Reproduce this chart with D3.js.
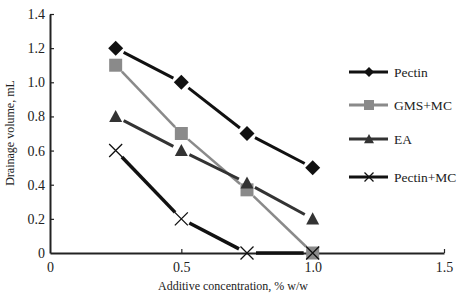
<!DOCTYPE html>
<html>
<head>
<meta charset="utf-8">
<script src="https://cdn.jsdelivr.net/npm/d3@7"></script>
<style>
  body { margin: 0; background: #fff; }
  text { font-family: "Liberation Serif", "Times New Roman", serif; fill: #222; }
</style>
</head>
<body>
<div id="chart"></div>
<script>
const concentrations = [0.25, 0.5, 0.75, 1.0];
const seriesNames = ["Pectin", "GMS+MC", "EA", "Pectin+MC"];
const pectin = [1.2, 1.0, 0.7, 0.5];
const gmsMc = [1.1, 0.7, 0.37, 0];
const ea = [0.8, 0.6, 0.41, 0.2];
const pectinMc = [0.6, 0.2, 0, 0];
const xTicks = [0, 0.5, 1.0, 1.5];
const yTicks = [0, 0.2, 0.4, 0.6, 0.8, 1.0, 1.2, 1.4];

const W = 461, H = 298;
const svg = d3.select("#chart").append("svg")
  .attr("width", W).attr("height", H);

const x = d3.scaleLinear().domain([0, 1.5]).range([50, 444]);
const y = d3.scaleLinear().domain([0, 1.4]).range([253, 14]);

const styles = [
  {values: pectin, color: "#111", width: 3, shape: "diamond"},
  {values: gmsMc, color: "#8a8a8a", width: 2.5, shape: "square"},
  {values: ea, color: "#333", width: 3, shape: "triangle"},
  {values: pectinMc, color: "#111", width: 3.5, shape: "cross"}
];

function marker(shape, s) {
  if (shape === "diamond") return `M0,${-s}L${s},0L0,${s}L${-s},0Z`;
  if (shape === "square") return `M${-s},${-s}H${s}V${s}H${-s}Z`;
  if (shape === "triangle") return `M0,${-s}L${s},${s * 0.85}L${-s},${s * 0.85}Z`;
  return `M${-s},${-s}L${s},${s}M${s},${-s}L${-s},${s}`;
}

// axes
const yAxis = d3.axisLeft(y).tickValues(yTicks)
  .tickFormat(d => d === 0 ? "0" : d3.format(".1f")(d))
  .tickSizeInner(-4).tickSizeOuter(0).tickPadding(5);
const gy = svg.append("g").attr("transform", "translate(50,0)").call(yAxis);

const xAxis = d3.axisBottom(x).tickValues(xTicks)
  .tickFormat(d => d === 0 ? "0" : d3.format(".1f")(d))
  .tickSizeInner(-4).tickSizeOuter(0).tickPadding(9);
const gx = svg.append("g").attr("transform", "translate(0,253)").call(xAxis);

[gx, gy].forEach(g => {
  g.select(".domain").attr("stroke", "#222").attr("stroke-width", 2);
  g.selectAll(".tick line").attr("stroke", "#222").attr("stroke-width", 1.2);
  g.selectAll(".tick text").style("font-size", "14px")
    .style("font-family", "Liberation Serif, serif").attr("fill", "#222");
});
gx.selectAll(".tick").filter(d => d === 0).select("line").remove();
gy.selectAll(".tick").filter(d => d === 0).select("line").remove();

svg.append("text")
  .attr("x", 233).attr("y", 290)
  .attr("text-anchor", "middle")
  .style("font-size", "12px")
  .text("Additive concentration, % w/w");

svg.append("text")
  .attr("transform", "translate(14,133) rotate(-90)")
  .attr("text-anchor", "middle")
  .style("font-size", "12px")
  .text("Drainage volume, mL");

// lines with small gaps near markers
const gap = 9;
styles.forEach(s => {
  const pts = concentrations.map((c, i) => [x(c), y(s.values[i])]);
  for (let i = 0; i < pts.length - 1; i++) {
    const [x1, y1] = pts[i], [x2, y2] = pts[i + 1];
    const len = Math.hypot(x2 - x1, y2 - y1);
    const ux = (x2 - x1) / len, uy = (y2 - y1) / len;
    svg.append("line")
      .attr("x1", x1 + ux * gap).attr("y1", y1 + uy * gap)
      .attr("x2", x2 - ux * gap).attr("y2", y2 - uy * gap)
      .attr("stroke", s.color).attr("stroke-width", s.width);
  }
});

// markers
styles.forEach(s => {
  svg.selectAll(null)
    .data(s.values)
    .enter()
    .append("path")
    .attr("transform", (d, i) => `translate(${x(concentrations[i])},${y(d)})`)
    .attr("d", marker(s.shape, s.shape === "diamond" ? 7.5 : 6.5))
    .attr("fill", s.shape === "cross" ? "none" : s.color)
    .attr("stroke", s.shape === "cross" ? "#111" : "none")
    .attr("stroke-width", 1.3);
});

// legend
const legend = svg.append("g");
seriesNames.forEach((name, i) => {
  const s = styles[i];
  const ly = [72, 105, 139, 177][i];
  legend.append("line")
    .attr("x1", 349).attr("x2", 388)
    .attr("y1", ly).attr("y2", ly)
    .attr("stroke", s.color).attr("stroke-width", 3);
  legend.append("path")
    .attr("transform", `translate(369,${ly})`)
    .attr("d", marker(s.shape, s.shape === "cross" ? 4.5 : 5))
    .attr("fill", s.shape === "cross" ? "none" : s.color)
    .attr("stroke", s.shape === "cross" ? "#111" : "none")
    .attr("stroke-width", 1.3);
  legend.append("text")
    .attr("x", 394).attr("y", ly + 4.5)
    .style("font-size", "13.5px")
    .text(name);
});
</script>
</body>
</html>
